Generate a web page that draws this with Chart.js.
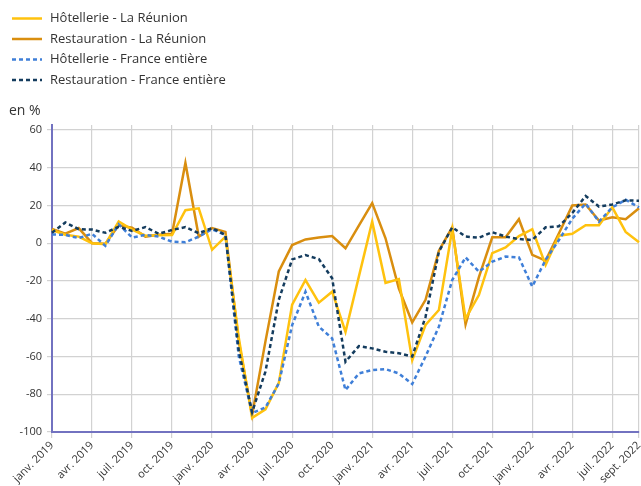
<!DOCTYPE html>
<html>
<head>
<meta charset="utf-8">
<script src="https://cdn.jsdelivr.net/npm/chart.js@4.4.1/dist/chart.umd.min.js"></script>
<style>
  html, body { margin: 0; padding: 0; background: #ffffff; }
  #wrap { position: relative; width: 641px; height: 486px; }
</style>
</head>
<body>
<div id="wrap"><canvas id="c" width="641" height="486"></canvas></div>
<script>
// ---- Data ----
const months = [
  "janv. 2019","févr. 2019","mars 2019","avr. 2019","mai 2019","juin 2019","juil. 2019","août 2019","sept. 2019","oct. 2019","nov. 2019","déc. 2019",
  "janv. 2020","févr. 2020","mars 2020","avr. 2020","mai 2020","juin 2020","juil. 2020","août 2020","sept. 2020","oct. 2020","nov. 2020","déc. 2020",
  "janv. 2021","févr. 2021","mars 2021","avr. 2021","mai 2021","juin 2021","juil. 2021","août 2021","sept. 2021","oct. 2021","nov. 2021","déc. 2021",
  "janv. 2022","févr. 2022","mars 2022","avr. 2022","mai 2022","juin 2022","juil. 2022","août 2022","sept. 2022"
];

const hotellerieReunion = [
  7, 4.5, 3.5, 0, -0.5, 11.5, 7.2, 4, 4.2, 4.3, 17.5, 18.5,
  -3.5, 3.5, -50, -92.5, -88, -74, -32.5, -19.5, -31.5, -25.7, -47, -17.7,
  11.4, -21, -19, -62, -43.3, -35.4, 7.3, -40, -27.5, -5.3, -2.2, 3.8,
  7.4, -11.5, 4, 5, 9.5, 9.5, 19, 6, 0.5
];

const restaurationReunion = [
  7.5, 5, 8, 0, -0.3, 9.5, 8.2, 3.5, 4.5, 5, 42.5, 3.5,
  8, 6, -52, -91, -52, -15, -1, 2, 3, 3.8, -2.7, 9.3,
  21.2, 2.6, -24, -42, -30, -4, 8.4, -43, -18, 3.1, 3.1, 12.7,
  -6.2, -9.2, 5.3, 20, 20.5, 12, 13.7, 12.7, 18.5
];

const hotellerieFrance = [
  4.6, 4.4, 2.7, 5, -1.4, 10, 3, 4.4, 3.5, 0.8, 0.5, 3.5,
  7.4, 4.4, -60, -90, -87, -74.3, -43.4, -25.7, -44.2, -50.4, -77.8, -69,
  -67.2, -66.7, -69, -74.6, -60, -44.2, -19.5, -7.5, -15.1, -9.8, -7.1, -7.5,
  -23, -8.8, 1.7, 13, 21, 11.4, 19, 23, 19
];

const restaurationFrance = [
  5.5, 11, 7.4, 7.2, 5.5, 8.7, 6.5, 8.5, 5, 7, 8.5, 5.3,
  8, 4.4, -57, -89.5, -68, -30, -8.6, -6.3, -8.4, -18.6, -62.8, -54.5,
  -55.7, -57.5, -58.3, -60, -39, -4.5, 8.4, 3.5, 2.9, 5.8, 3.5, 2.2,
  1.7, 8.4, 9, 16, 25, 19.4, 20.5, 22.7, 22.5
];

const seriesNames = [
  "Hôtellerie - La Réunion",
  "Restauration - La Réunion",
  "Hôtellerie - France entière",
  "Restauration - France entière"
];

const yTicks = [60, 40, 20, 0, -20, -40, -60, -80, -100];
const yUnit = "en %";

// ---- Styles ----
const COLORS = ["#ffc20e", "#d98e0f", "#3f7fd8", "#143c5e"];
const DASHES = [[], [], [4, 3], [4, 3]];
const AXIS_COLOR = "#7272c0";
const GRID_COLOR = "#d2d2d2";
const TEXT_COLOR = "#333333";
const FONT_FAMILY = "'Open Sans', 'Noto Sans', sans-serif";

function labelShown(i) { return i % 3 === 0 || i === months.length - 1; }

const legendPlugin = {
  id: 'customLegend',
  afterDraw(chart) {
    const ctx = chart.ctx;
    ctx.save();
    ctx.font = "13px " + FONT_FAMILY;
    ctx.textBaseline = "middle";
    ctx.textAlign = "left";
    const ys = [18.5, 39, 59.5, 80];
    chart.data.datasets.forEach((ds, k) => {
      const y = ys[k];
      ctx.strokeStyle = ds.borderColor;
      ctx.lineWidth = 2.5;
      ctx.setLineDash(ds.borderDash || []);
      ctx.beginPath();
      ctx.moveTo(12, y);
      ctx.lineTo(42, y);
      ctx.stroke();
      ctx.setLineDash([]);
      ctx.fillStyle = TEXT_COLOR;
      ctx.fillText(ds.label, 50, y);
    });
    ctx.font = "14px " + FONT_FAMILY;
    ctx.fillText(yUnit, 9, 111);
    ctx.restore();
  }
};

const data = {
  labels: months,
  datasets: [
    { label: seriesNames[0], data: hotellerieReunion, order: 2 },
    { label: seriesNames[1], data: restaurationReunion, order: 3 },
    { label: seriesNames[2], data: hotellerieFrance, order: 1 },
    { label: seriesNames[3], data: restaurationFrance, order: 0 }
  ].map((d, k) => Object.assign(d, {
    borderColor: COLORS[k],
    backgroundColor: COLORS[k],
    borderDash: DASHES[k],
    borderWidth: 2.5,
    pointRadius: 0,
    pointHoverRadius: 0,
    tension: 0,
    fill: false
  }))
};

new Chart(document.getElementById('c'), {
  type: 'line',
  data: data,
  plugins: [legendPlugin],
  options: {
    responsive: false,
    devicePixelRatio: 1,
    animation: false,
    layout: { padding: { top: 125, right: 2, left: 0, bottom: 0 } },
    plugins: {
      legend: { display: false },
      tooltip: { enabled: false },
      title: { display: false }
    },
    scales: {
      x: {
        type: 'category',
        offset: false,
        border: { display: true, color: AXIS_COLOR, width: 2 },
        grid: {
          color: (c) => labelShown(c.index) ? GRID_COLOR : 'rgba(0,0,0,0)',
          lineWidth: 1.2,
          tickLength: 6,
          drawOnChartArea: true
        },
        ticks: {
          autoSkip: false,
          maxRotation: 45,
          minRotation: 45,
          padding: 1,
          color: TEXT_COLOR,
          font: { size: 11, family: FONT_FAMILY },
          callback: function (v, i) { return labelShown(i) ? months[i] : ''; }
        },
        afterFit: function (scale) {
          scale.height = 54;
          scale.paddingLeft = 0;
          scale.paddingRight = 0;
        }
      },
      y: {
        min: -100,
        max: 62.6,
        border: { display: true, color: AXIS_COLOR, width: 2 },
        grid: { color: GRID_COLOR, lineWidth: 1.2, tickLength: 5 },
        afterBuildTicks: function (scale) {
          scale.ticks = yTicks.map(v => ({ value: v }));
        },
        ticks: {
          padding: 5,
          color: TEXT_COLOR,
          font: { size: 11, family: FONT_FAMILY },
          callback: function (v) { return String(v); }
        },
        afterFit: function (scale) {
          scale.width = 52;
        }
      }
    }
  }
});
</script>
</body>
</html>
